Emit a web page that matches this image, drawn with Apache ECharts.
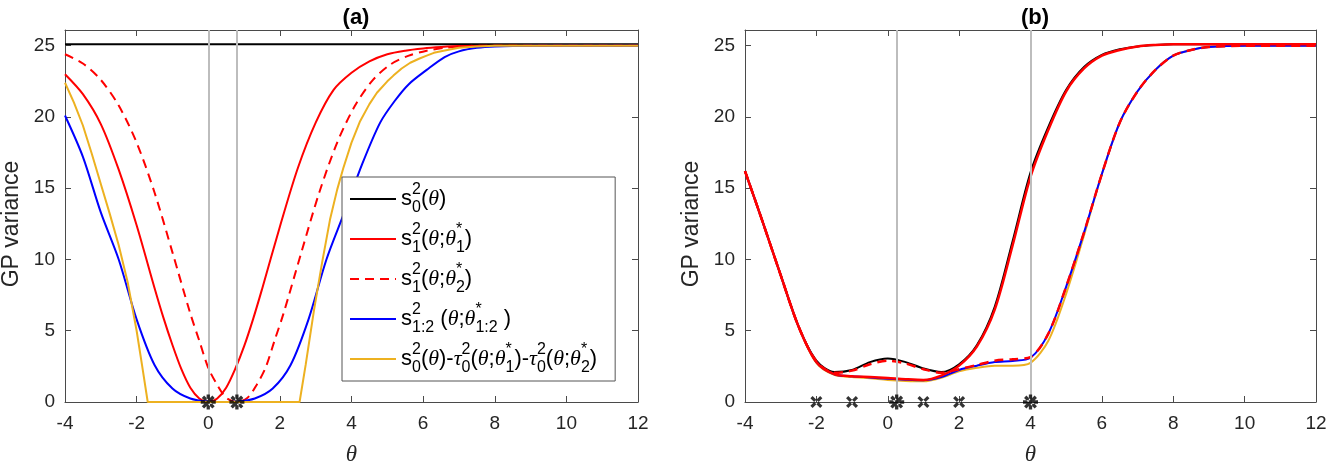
<!DOCTYPE html>
<html>
<head>
<meta charset="utf-8">
<script src="https://cdn.jsdelivr.net/npm/echarts@6/dist/echarts.min.js"></script>
<style>
html,body{margin:0;padding:0;background:#fff;}
#chart{width:1330px;height:467px;}
</style>
</head>
<body>
<div id="chart"></div>
<script>
// ---------------- data ----------------
const xTicks = [-4, -2, 0, 2, 4, 6, 8, 10, 12];
const yTicks = [0, 5, 10, 15, 20, 25];
const panelTitles = ['(a)', '(b)'];
const seriesNames = [
  's0^2(θ)',
  's1^2(θ;θ1*)',
  's1^2(θ;θ2*)',
  's1:2^2(θ;θ1:2*)',
  's0^2(θ)-τ0^2(θ;θ1*)-τ0^2(θ;θ2*)'
];

// panel (a)
const aBlackX = [-4, 12];
const aBlackY = [25.1, 25.1];
const aRedX = [-4,-3.5,-3,-2.5,-2,-1.5,-1.25,-1,-0.75,-0.5,-0.25,0,0.25,0.5,0.75,1,1.25,1.5,2,2.5,3,3.5,4,4.5,5,5.5,6,6.5,7,8,12];
const aRedY = [23.0,21.6,19.5,16.3,12.4,8.0,5.9,4.0,2.3,1.0,0.25,0,0.25,1.0,2.3,3.9,5.8,7.9,12.3,16.4,19.6,21.9,23.1,23.9,24.4,24.65,24.8,24.9,24.97,25.0,25.0];
const aRedDashX = [-4,-3.5,-3,-2.5,-2,-1.5,-1,-0.5,-0.25,0,0.25,0.5,0.8,1.1,1.35,1.6,1.85,2.1,2.6,3.1,3.6,4.1,4.6,5.1,5.6,6.1,6.6,7.1,7.6,8.5,12];
const aRedDashY = [24.4,23.75,22.6,20.8,18.2,14.7,10.5,6.2,4.3,2.4,1.2,0.3,0,0.3,1.2,2.4,4.3,6.2,10.5,14.7,18.2,20.8,22.6,23.7,24.3,24.65,24.85,24.95,25.0,25.0,25.0];
const aBlueX = [-4,-3.5,-3,-2.5,-2,-1.5,-1,-0.5,0,0.4,0.8,1.3,1.8,2.3,2.8,3.3,3.8,4.3,4.8,5.2,5.6,6.1,6.6,7.0,7.5,8,9,12];
const aBlueY = [20.1,17.2,13.3,10.0,5.8,2.6,0.95,0.25,0.03,0,0.03,0.25,0.95,2.6,5.8,10.0,13.3,16.7,19.6,21.1,22.3,23.3,24.2,24.6,24.85,24.95,25.0,25.0];
const aOrangeX = [-4,-3.75,-3.5,-3.25,-3,-2.75,-2.5,-2.25,-2.0,-1.85,-1.69,2.55,2.72,2.95,3.18,3.4,3.6,3.77,4.0,4.24,4.5,4.71,5.0,5.17,5.4,5.64,5.9,6.1,6.3,6.57,7.0,7.5,8,12];
const aOrangeY = [22.4,21.0,19.4,17.4,15.3,13.2,11.0,8.4,5.0,2.6,0,0,2.6,6.4,9.8,12.8,14.9,16.4,18.2,19.7,20.9,21.7,22.5,22.9,23.4,23.8,24.1,24.3,24.5,24.65,24.85,24.95,25.0,25.0];
const aVLines = [0, 0.8];
const aStars = [0, 0.8];

// panel (b)
const bX = [-4,-3.5,-3,-2.5,-2,-1.5,-1,-0.5,0,0.5,1,1.5,2,2.5,3,3.5,4,4.5,5,5.5,6,6.5,7,7.5,8,8.5,9,10,12];
const bBlackY   = [16.2,12.6,8.9,5.3,2.9,2.1,2.25,2.8,3.05,2.8,2.35,2.1,2.65,4.0,6.7,11.3,16.1,19.3,21.9,23.5,24.35,24.75,24.95,25.05,25.1,25.1,25.1,25.1,25.1];
const bRedY     = [16.2,12.6,8.9,5.3,2.8,1.95,1.8,1.75,1.68,1.6,1.55,1.85,2.55,3.9,6.5,11.0,15.8,19.1,21.8,23.4,24.3,24.7,24.95,25.05,25.1,25.1,25.1,25.1,25.1];
const bRedDashY = [16.2,12.6,8.9,5.3,2.85,2.05,2.2,2.65,2.9,2.7,2.3,2.05,2.3,2.6,2.9,3.0,3.15,4.8,8.1,11.9,16.0,19.6,21.8,23.3,24.3,24.7,24.9,25.0,25.0];
const bBlueY    = [16.2,12.6,8.9,5.3,2.8,1.95,1.8,1.72,1.63,1.56,1.52,1.75,2.25,2.55,2.8,2.88,3.1,4.8,8.1,11.9,16.0,19.6,21.8,23.3,24.3,24.7,24.9,25.0,25.0];
const bOrangeY  = [16.2,12.6,8.9,5.3,2.75,1.9,1.75,1.66,1.55,1.48,1.45,1.7,2.15,2.4,2.55,2.55,2.75,4.3,7.6,11.7,16.0,19.6,21.8,23.3,24.3,24.7,24.9,25.0,25.0];
const bVLines = [0.25, 4];
const bStars = [0.25, 4];
const bCrosses = [-2, -1, 1, 2];

// ---------------- helpers ----------------
const zip = (xs, ys) => xs.map((x, i) => [x, ys[i]]);
const C = { black:'#000000', red:'#FF0000', blue:'#0000FF', orange:'#EDB120', gray:'#BDBDBD', axis:'#4a4a4a', text:'#262626' };
const SANS = 'Liberation Sans, Arial, Helvetica, sans-serif';
const SERIF = 'Liberation Serif, Times New Roman, serif';

const starPath = 'path://M-2.2,-10L2.2,-10L2.2,10L-2.2,10Z M-10,-2.2L10,-2.2L10,2.2L-10,2.2Z M5.5,8.6L8.6,5.5L-5.5,-8.6L-8.6,-5.5Z M-5.5,8.6L-8.6,5.5L5.5,-8.6L8.6,-5.5Z';
const crossPath = 'path://M5.4,8.6L8.6,5.4L-5.4,-8.6L-8.6,-5.4Z M-5.4,8.6L-8.6,5.4L5.4,-8.6L8.6,-5.4Z';

const yMax = 26.1;

function xAxes(gi) {
  return [{
    type:'value', gridIndex:gi, min:xTicks[0], max:xTicks[xTicks.length-1], interval:2, position:'bottom',
    axisLine:{show:true, onZero:false, lineStyle:{color:C.axis, width:1}},
    axisTick:{show:true, inside:true, length:6, lineStyle:{color:C.axis}},
    axisLabel:{color:C.text, fontSize:19, fontFamily:SANS, margin:12},
    splitLine:{show:false},
    name:'θ', nameLocation:'middle', nameGap:41,
    nameTextStyle:{fontFamily:SERIF, fontStyle:'italic', fontSize:23, color:C.text}
  },{
    type:'value', gridIndex:gi, min:xTicks[0], max:xTicks[xTicks.length-1], interval:2, position:'top',
    axisLine:{show:true, onZero:false, lineStyle:{color:C.axis, width:1}},
    axisTick:{show:true, inside:true, length:6, lineStyle:{color:C.axis}},
    axisLabel:{show:false}, splitLine:{show:false}
  }];
}
function yAxes(gi) {
  return [{
    type:'value', gridIndex:gi, min:0, max:yMax, interval:5, position:'left',
    axisLine:{show:true, onZero:false, lineStyle:{color:C.axis, width:1}},
    axisTick:{show:true, inside:true, length:6, lineStyle:{color:C.axis}},
    axisLabel:{color:C.text, fontSize:19, fontFamily:SANS, margin:10, showMaxLabel:false,
      formatter: v => (yTicks.indexOf(v) >= 0 ? String(v) : '')},
    splitLine:{show:false},
    name:'GP variance', nameLocation:'middle', nameGap:42,
    nameTextStyle:{fontFamily:SANS, fontSize:23, color:C.text, padding:[0, 16, 0, 0]}
  },{
    type:'value', gridIndex:gi, min:0, max:yMax, interval:5, position:'right',
    axisLine:{show:true, onZero:false, lineStyle:{color:C.axis, width:1}},
    axisTick:{show:true, inside:true, length:6, lineStyle:{color:C.axis}},
    axisLabel:{show:false}, splitLine:{show:false}
  }];
}

function lineSeries(name, data, color, panel, opts) {
  opts = opts || {};
  return {
    type:'line', name:name, data:data,
    xAxisIndex: panel === 0 ? 0 : 2, yAxisIndex: panel === 0 ? 0 : 2,
    symbol:'none', showSymbol:false, clip:true,
    smooth: opts.smooth === undefined ? 0.3 : opts.smooth,
    lineStyle:{color:color, width: opts.width || 2, type: opts.dash || 'solid'},
    itemStyle:{color:color},
    emphasis:{disabled:true}, silent:true, animation:false, z: 3
  };
}
function vlineSeries(xs, panel) {
  return {
    type:'line', data:[], xAxisIndex: panel === 0 ? 0 : 2, yAxisIndex: panel === 0 ? 0 : 2,
    silent:true, animation:false, z:1,
    markLine:{silent:true, symbol:['none','none'], label:{show:false},
      lineStyle:{color:C.gray, width:2, type:'solid'},
      data: xs.map(x => ({xAxis:x}))}
  };
}
function markerSeries(xs, panel, path, size) {
  return {
    type:'scatter', data: xs.map(x => [x, 0]),
    xAxisIndex: panel === 0 ? 0 : 2, yAxisIndex: panel === 0 ? 0 : 2,
    symbol:path, symbolSize:size, itemStyle:{color:'#000'}, clip:false,
    silent:true, animation:false, z:10
  };
}

// legend rich text
const legendRich = {
  [seriesNames[0]]: '{b|s}{sp|2}{sb|0}{b|(}{t|θ}{b|)}',
  [seriesNames[1]]: '{b|s}{sp|2}{sb|1}{b|(}{t|θ}{b|;}{t|θ}{sp|*}{sb|1}{b|)}',
  [seriesNames[2]]: '{b|s}{sp|2}{sb|1}{b|(}{t|θ}{b|;}{t|θ}{sp|*}{sb|2}{b|)}',
  [seriesNames[3]]: '{b|s}{sp|2}{sb|1:2}{b| (}{t|θ}{b|;}{t|θ}{sp|*}{sb|1:2}{b| )}',
  [seriesNames[4]]: '{b|s}{sp|2}{sb|0}{b|(}{t|θ}{b|)-}{t|τ}{sp|2}{sb|0}{b|(}{t|θ}{b|;}{t|θ}{sp|*}{sb|1}{b|)-}{t|τ}{sp|2}{sb|0}{b|(}{t|θ}{b|;}{t|θ}{sp|*}{sb|2}{b|)}'
};

const option = {
  backgroundColor:'#ffffff',
  animation:false,
  title: [
    {text:panelTitles[0], left:351, top:2, textAlign:'center',
     textStyle:{fontFamily:SANS, fontWeight:'bold', fontSize:22, color:'#000'}},
    {text:panelTitles[1], left:1030, top:2, textAlign:'center',
     textStyle:{fontFamily:SANS, fontWeight:'bold', fontSize:22, color:'#000'}}
  ],
  grid: [
    {left:65, top:30, width:573, height:372, containLabel:false, outerBoundsMode:'none'},
    {left:745, top:30, width:571, height:372, containLabel:false, outerBoundsMode:'none'}
  ],
  xAxis: [...xAxes(0), ...xAxes(1)],
  yAxis: [...yAxes(0), ...yAxes(1)],
  legend: {
    data: seriesNames,
    orient:'vertical', left:342, top:177,
    padding:[5, 18, 5, 7], itemGap:6, itemWidth:46, itemHeight:14, itemTextGap:5,
    backgroundColor:'#ffffff', borderColor:'#555555', borderWidth:1, borderRadius:0,
    selectedMode:false,
    itemStyle:{opacity:0},
    formatter: name => legendRich[name] || name,
    textStyle:{
      color:'#000', fontFamily:SANS, fontSize:20,
      rich:{
        b:{fontFamily:SANS, fontSize:22, color:'#000', lineHeight:34, verticalAlign:'middle'},
        t:{fontFamily:SERIF, fontStyle:'italic', fontSize:22, color:'#000', lineHeight:34, verticalAlign:'middle'},
        sp:{fontFamily:SANS, fontSize:16, color:'#000', lineHeight:14, verticalAlign:'top', width:0.01},
        sb:{fontFamily:SANS, fontSize:16, color:'#000', lineHeight:14, verticalAlign:'bottom'}
      }
    }
  },
  series: [
    vlineSeries(aVLines, 0),
    lineSeries(seriesNames[0], zip(aBlackX, aBlackY), C.black, 0, {smooth:false}),
    lineSeries(seriesNames[1], zip(aRedX, aRedY), C.red, 0),
    lineSeries(seriesNames[2], zip(aRedDashX, aRedDashY), C.red, 0, {dash:[9,6]}),
    lineSeries(seriesNames[3], zip(aBlueX, aBlueY), C.blue, 0),
    lineSeries(seriesNames[4], zip(aOrangeX, aOrangeY), C.orange, 0, {smooth:false}),
    markerSeries(aStars, 0, starPath, 15),

    vlineSeries(bVLines, 1),
    lineSeries(seriesNames[0], zip(bX, bBlackY), C.black, 1, {width:2}),
    lineSeries(seriesNames[4], zip(bX, bOrangeY), C.orange, 1),
    lineSeries(seriesNames[3], zip(bX, bBlueY), C.blue, 1),
    lineSeries(seriesNames[1], zip(bX, bRedY), C.red, 1, {width:2.5}),
    lineSeries(seriesNames[2], zip(bX, bRedDashY), C.red, 1, {dash:[9,6], width:2.5}),
    markerSeries(bStars, 1, starPath, 15),
    markerSeries(bCrosses, 1, crossPath, 12)
  ]
};

const chart = echarts.init(document.getElementById('chart'), null, {renderer:'canvas'});
chart.setOption(option);
</script>
</body>
</html>
